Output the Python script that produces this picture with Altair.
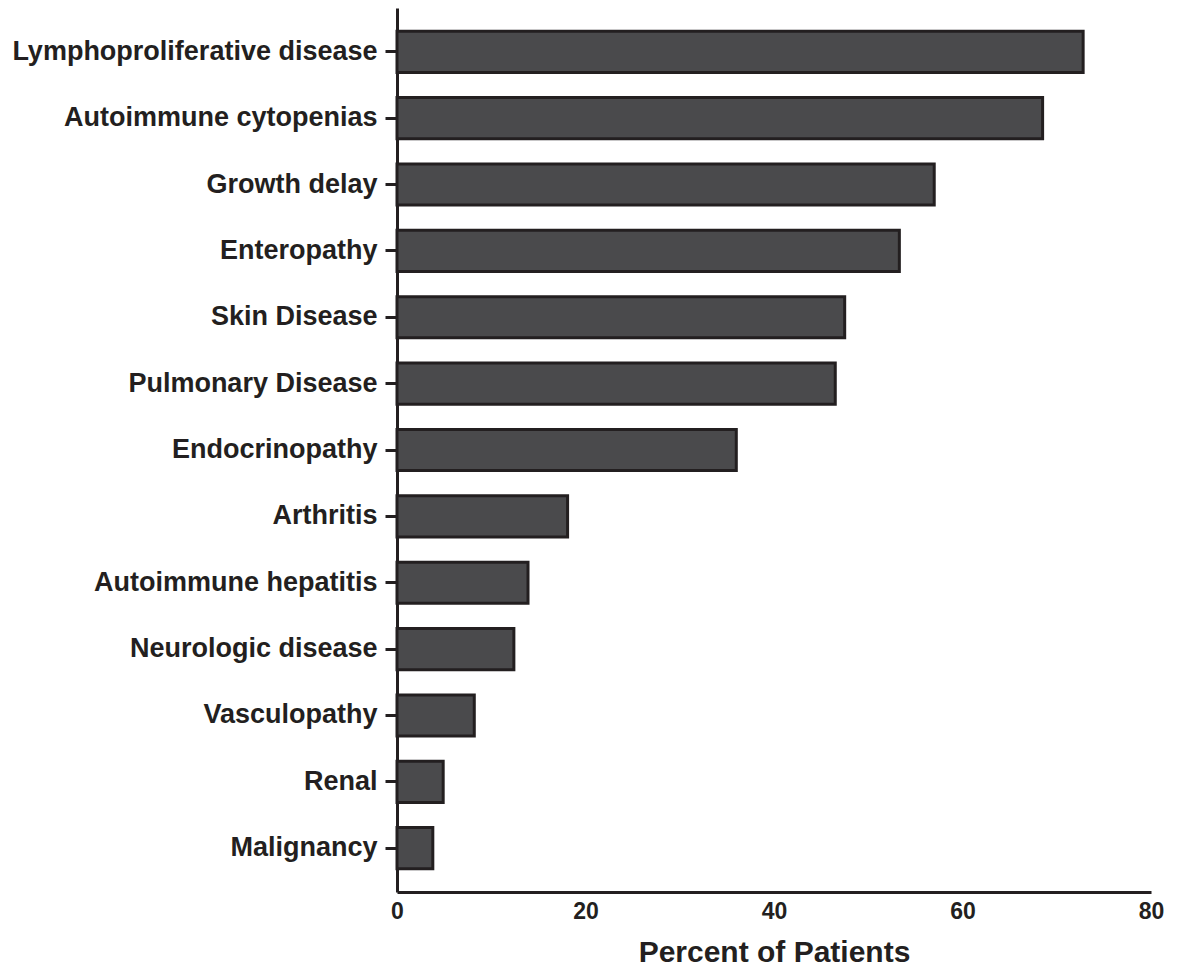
import altair as alt
import pandas as pd

categories = ["Lymphoproliferative disease", "Autoimmune cytopenias", "Growth delay",
              "Enteropathy", "Skin Disease", "Pulmonary Disease", "Endocrinopathy",
              "Arthritis", "Autoimmune hepatitis", "Neurologic disease", "Vasculopathy",
              "Renal", "Malignancy"]
values = [72.8, 68.5, 57.0, 53.3, 47.5, 46.5, 36.0, 18.1, 13.9, 12.4, 8.2, 4.9, 3.8]
x_ticks = [0, 20, 40, 60, 80]

df = pd.DataFrame({"cat": categories, "val": values})

font = "Liberation Sans"
chart = alt.Chart(df).mark_bar(
    color="#4a4a4c", stroke="#231f20", strokeWidth=3
).encode(
    x=alt.X("val:Q", scale=alt.Scale(domain=[0, 80], nice=False),
            axis=alt.Axis(values=x_ticks, title="Percent of Patients", grid=False,
                          ticks=False, labelPadding=8, titlePadding=14,
                          labelFlush=False, labelFontSize=23)),
    y=alt.Y("cat:N", sort=categories,
            scale=alt.Scale(paddingInner=0.38, paddingOuter=0.35),
            axis=alt.Axis(title=None, grid=False, tickSize=12, tickWidth=3,
                          tickColor="#231f20", labelPadding=8, labelLimit=0,
                          labelFontSize=27))
).properties(
    width=754, height=884,
    autosize=alt.AutoSizeParams(type="none"),
    padding={"left": 389, "top": 0, "right": 20, "bottom": 80}
).configure_axis(
    domainColor="#231f20", domainWidth=3,
    labelFont=font, labelFontWeight="bold", labelColor="#231f20",
    titleFont=font, titleFontSize=30, titleFontWeight="bold", titleColor="#231f20"
).configure_view(stroke=None)

chart.save("out.html", embed_options={"renderer": "svg", "actions": False})
